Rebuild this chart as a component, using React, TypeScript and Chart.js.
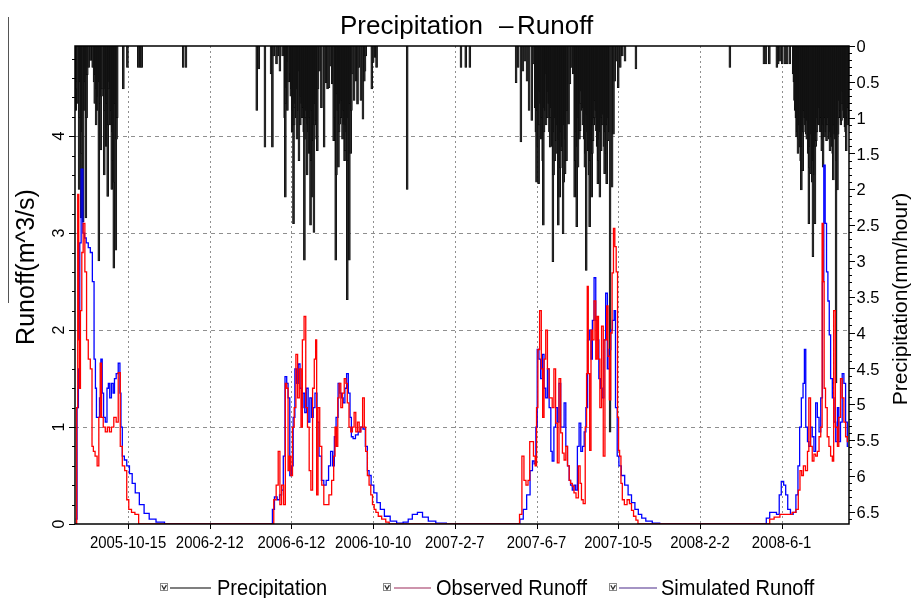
import React, { useEffect, useRef } from 'react';
import { Chart, registerables } from 'chart.js';
Chart.register(...registerables);

const W = 912;
const H = 598;
const FONT = '"Liberation Sans", Arial, Helvetica, sans-serif';

// x values are days counted from 2005-10-15
const xMin = -78;
const xMax = 1059;
const xTickDays = [0, 120, 240, 360, 480, 600, 720, 840, 960];
const xTickLabels = ['2005-10-15', '2006-2-12', '2006-6-12', '2006-10-10', '2007-2-7', '2007-6-7', '2007-10-5', '2008-2-2', '2008-6-1'];

const runoffMax = 4.93;
const runoffTicks = [0, 1, 2, 3, 4];
const runoffTickLabels = ['0', '1', '2', '3', '4'];

const precipMax = 6.67;
const precipTicks = [0, 0.5, 1, 1.5, 2, 2.5, 3, 3.5, 4, 4.5, 5, 5.5, 6, 6.5];
const precipTickLabels = ['0', '0.5', '1', '1.5', '2', '2.5', '3', '3.5', '4', '4.5', '5', '5.5', '6', '6.5'];

const chartTitle = ['Precipitation', '\u2013', 'Runoff'];
const runoffAxisTitle = 'Runoff(m^3/s)';
const precipAxisTitle = 'Precipitation(mm/hour)';
const legendLabels = ['Precipitation', 'Observed Runoff', 'Simulated Runoff'];

// [day, m^3/s]
const observedRunoff: [number, number][] = [
  [-77, 0], [-76, 0], [-75, 1.2], [-73, 3.4], [-72, 1.9], [-71, 1.4], [-69, 2.2], [-67, 2.8], [-65, 3.1], [-62, 2.6], [-60, 1.9], [-57, 1.7], [-54, 1.6], [-52, 0.8], [-50, 0.75], [-47, 0.7], [-44, 0.6], [-42, 1.1], [-40, 1.66], [-38, 1.1], [-35, 1.0], [-32, 0.95], [-29, 1.0], [-26, 0.95], [-23, 1.0], [-19, 1.1], [-16, 1.05], [-13, 1.56], [-10, 0.8], [-7, 0.6], [-3, 0.55], [-1, 0.25], [3, 0.15], [7, 0.12], [13, 0.1], [18, 0],
  [212, 0], [216, 0.25], [219, 0.4], [222, 0.75], [224, 0.2], [227, 0.4], [230, 0.2], [232, 1.45], [234, 1.4], [236, 0.55], [238, 0.7], [240, 0.5], [243, 1.0], [245, 1.2], [248, 1.75], [250, 1.3], [253, 1.6], [255, 1.0], [257, 1.9], [260, 2.14], [262, 1.2], [265, 1.0], [267, 0.55], [270, 0.35], [272, 1.4], [275, 1.7], [276, 1.9], [278, 0.3], [280, 1.2], [283, 0.8], [286, 0.4], [289, 0.2], [293, 0.2], [297, 0.3], [301, 0.45], [303, 0.7], [305, 1.0], [307, 0.8], [309, 1.3], [311, 1.45], [314, 1.2], [316, 1.35], [319, 1.5], [321, 1.45], [323, 1.25], [326, 1.0], [328, 0.95], [331, 1.0], [333, 1.15], [336, 0.95], [338, 1.05], [341, 0.95], [343, 1.0], [346, 1.3], [348, 1.0], [350, 0.75], [353, 0.5], [355, 0.4], [358, 0.3], [360, 0.2], [363, 0.15], [365, 0.12], [370, 0.08], [375, 0.05], [382, 0.02], [385, 0],
  [573, 0], [577, 0.1], [580, 0.7], [583, 0.45], [586, 0.4], [589, 0.45], [591, 0.85], [594, 0.85], [597, 0.7], [599, 0.6], [601, 1.2], [603, 1.8], [606, 2.2], [608, 1.6], [610, 1.1], [612, 1.7], [615, 2.0], [617, 1.6], [620, 1.3], [622, 1.3], [624, 1.2], [627, 1.6], [629, 1.04], [632, 0.63], [634, 1.5], [637, 0.94], [639, 0.73], [642, 0.66], [644, 0.8], [647, 0.6], [649, 0.45], [651, 0.42], [654, 0.39], [656, 0.32], [660, 0.27], [663, 0.6], [665, 0.42], [667, 0.25], [670, 0.21], [673, 1.0], [674, 1.55], [675, 2.45], [677, 1.55], [679, 0.76], [681, 2.0], [683, 1.9], [686, 2.3], [688, 1.7], [690, 2.14], [692, 1.7], [694, 1.2], [697, 2.04], [699, 0.7], [702, 1.9], [704, 2.25], [706, 1.73], [708, 1.28], [710, 1.97], [712, 2.59], [714, 3.05], [716, 2.86], [718, 2.6], [720, 1.1], [721, 0.76], [723, 0.7], [725, 0.42], [727, 0.25], [731, 0.2], [735, 0.25], [738, 0.21], [741, 0.14], [744, 0.08], [748, 0.04], [750, 0],
  [940, 0], [945, 0.05], [953, 0.07], [962, 0.1], [972, 0.1], [979, 0.12], [983, 0.15], [986, 0.35], [988, 0.55], [991, 0.5], [993, 0.6], [997, 0.55], [999, 0.75], [1001, 1.3], [1004, 0.8], [1006, 0.65], [1009, 0.72], [1011, 0.7], [1014, 0.75], [1016, 0.9], [1019, 1.0], [1020, 3.1], [1022, 2.5], [1023, 1.4], [1026, 1.2], [1028, 0.9], [1031, 0.8], [1033, 0.7], [1036, 0.65], [1037, 2.2], [1041, 1.0], [1043, 0.8], [1045, 1.1], [1048, 1.5], [1050, 1.3], [1053, 1.05], [1055, 0.9], [1058, 0.85],
];

const simulatedRunoff: [number, number][] = [
  [-77, 0.05], [-76, 0.05], [-74, 1.2], [-72, 1.6], [-70, 2.9], [-68, 3.66], [-65, 3.0], [-63, 2.95], [-60, 2.9], [-57, 2.85], [-54, 2.8], [-51, 2.5], [-49, 1.7], [-47, 1.4], [-46, 1.1], [-43, 1.1], [-41, 1.3], [-39, 1.7], [-37, 1.35], [-35, 1.1], [-32, 1.05], [-30, 1.4], [-28, 1.45], [-26, 1.3], [-23, 1.45], [-21, 1.35], [-19, 1.5], [-16, 1.55], [-13, 1.66], [-11, 1.35], [-10, 1.0], [-7, 0.7], [-4, 0.66], [0, 0.6], [4, 0.52], [8, 0.42], [13, 0.32], [20, 0.2], [27, 0.11], [35, 0.05], [47, 0.02], [60, 0],
  [211, 0], [213, 0.15], [217, 0.28], [221, 0.25], [224, 0.3], [227, 0.35], [229, 0.7], [232, 1.52], [234, 1.45], [236, 1.3], [239, 0.5], [241, 0.6], [244, 1.1], [246, 1.6], [249, 1.45], [251, 1.65], [254, 1.4], [256, 1.2], [258, 1.35], [261, 1.15], [263, 1.4], [266, 1.05], [268, 1.3], [271, 1.1], [273, 1.2], [276, 1.35], [279, 1.05], [282, 0.7], [286, 0.45], [289, 0.4], [293, 0.45], [296, 0.6], [299, 0.75], [302, 0.6], [304, 0.9], [307, 1.1], [310, 1.45], [312, 1.35], [315, 1.3], [317, 1.25], [320, 1.4], [322, 1.55], [325, 1.35], [327, 1.1], [329, 0.9], [332, 0.88], [336, 0.92], [340, 0.95], [343, 1.0], [347, 0.98], [350, 0.8], [353, 0.55], [355, 0.5], [359, 0.4], [363, 0.32], [368, 0.22], [373, 0.15], [380, 0.08], [390, 0.03], [399, 0.01], [409, 0.02], [414, 0.05], [421, 0.1], [429, 0.12], [436, 0.07], [446, 0.03], [458, 0.01], [477, 0],
  [573, 0], [578, 0.05], [583, 0.15], [588, 0.3], [593, 0.55], [595, 0.65], [598, 0.62], [600, 1.0], [602, 1.8], [605, 1.7], [607, 1.5], [610, 1.75], [612, 1.4], [615, 1.3], [617, 1.6], [620, 1.2], [622, 0.75], [624, 0.65], [627, 1.0], [629, 1.2], [632, 1.05], [634, 1.45], [637, 1.0], [639, 1.0], [642, 1.25], [644, 0.8], [647, 0.6], [649, 0.45], [651, 0.4], [654, 0.35], [656, 0.4], [659, 0.35], [661, 0.8], [664, 1.04], [666, 0.75], [669, 0.8], [671, 0.95], [674, 1.2], [676, 1.9], [679, 2.0], [681, 1.7], [683, 2.1], [686, 2.54], [688, 2.1], [690, 1.9], [693, 1.5], [695, 1.4], [698, 1.3], [700, 1.9], [703, 2.38], [705, 1.6], [708, 1.8], [710, 2.0], [713, 2.1], [715, 2.2], [717, 1.2], [720, 0.7], [722, 0.6], [727, 0.5], [732, 0.4], [737, 0.3], [742, 0.22], [747, 0.15], [752, 0.1], [757, 0.06], [764, 0.03], [776, 0.01], [786, 0],
  [935, 0], [940, 0.06], [945, 0.12], [950, 0.12], [955, 0.1], [958, 0.3], [961, 0.44], [965, 0.4], [967, 0.3], [971, 0.15], [975, 0.1], [979, 0.12], [983, 0.3], [985, 0.6], [988, 1.0], [990, 1.3], [993, 1.45], [994, 1.8], [997, 1.0], [999, 0.85], [1001, 0.8], [1004, 1.0], [1006, 0.9], [1009, 0.75], [1011, 1.25], [1014, 1.1], [1016, 0.95], [1019, 1.3], [1021, 2.5], [1023, 3.7], [1025, 3.1], [1027, 2.6], [1029, 2.3], [1031, 1.95], [1033, 1.5], [1036, 1.3], [1038, 1.05], [1041, 0.85], [1043, 1.2], [1045, 0.85], [1048, 1.05], [1050, 1.55], [1053, 1.45], [1055, 1.05], [1058, 0.8],
];

// [day, mm/hour]
const precipitation: [number, number][] = [
  [-77, 0.9], [-76, 0.6], [-75, 0.5], [-74, 0.8], [-72, 2.0], [-71, 1.0], [-70, 0.5], [-69, 2.4], [-68, 1.5], [-67, 1.2], [-66, 2.45], [-64, 0.9], [-63, 0.5], [-62, 2.4], [-61, 1.0], [-60, 0.4], [-58, 0.3], [-55, 0.2], [-52, 0.3], [-50, 0.5], [-49, 0.8], [-48, 0.4], [-47, 1.1], [-46, 0.6], [-45, 0.9], [-44, 0.7], [-43, 3.0], [-42, 0.5], [-41, 0.8], [-40, 1.45], [-39, 0.7], [-38, 0.6], [-35, 1.8], [-34, 0.9], [-33, 0.6], [-32, 1.4], [-31, 0.8], [-30, 2.1], [-29, 1.1], [-28, 0.6], [-27, 0.5], [-26, 1.1], [-25, 0.9], [-24, 2.0], [-23, 1.2], [-22, 1.6], [-21, 3.1], [-20, 1.9], [-19, 0.8], [-18, 2.85], [-17, 1.3], [-16, 1.0], [-7, 0.6], [-1, 0.3], [15, 0.3], [18, 0.3], [20, 0.3],
  [81, 0.3], [85, 0.3],
  [189, 0.9], [192, 0.32], [201, 1.41], [210, 0.39], [212, 1.41], [214, 0.14], [218, 0.25], [220, 0.14], [223, 0.35], [227, 0.14], [230, 1.0], [231, 2.11], [232, 0.8], [233, 0.58], [234, 0.9], [235, 0.21], [236, 0.5], [238, 0.39], [239, 0.7], [240, 0.6], [241, 1.2], [242, 0.9], [243, 2.48], [244, 1.1], [245, 0.86], [246, 0.8], [247, 1.0], [248, 1.3], [249, 0.6], [250, 0.9], [251, 1.6], [252, 0.35], [253, 1.1], [254, 0.7], [255, 0.8], [256, 1.0], [257, 0.86], [258, 1.2], [259, 2.99], [260, 1.3], [261, 1.0], [262, 0.9], [263, 1.8], [264, 1.09], [265, 1.2], [266, 1.5], [267, 1.0], [268, 2.5], [269, 1.6], [270, 0.9], [271, 2.11], [272, 1.32], [273, 2.6], [274, 1.1], [275, 0.8], [276, 1.04], [277, 1.3], [278, 1.46], [279, 0.6], [281, 0.35], [284, 0.86], [288, 1.41], [291, 0.51], [293, 0.6], [295, 0.58], [298, 0.28], [300, 0.53], [302, 1.32], [304, 1.0], [305, 2.99], [306, 1.8], [307, 0.67], [308, 0.9], [309, 1.69], [310, 1.2], [311, 1.09], [312, 0.8], [313, 1.0], [314, 0.76], [315, 1.3], [316, 1.09], [317, 0.9], [318, 1.6], [319, 1.46], [320, 1.1], [321, 1.2], [322, 3.54], [323, 1.6], [324, 1.0], [325, 2.99], [326, 0.8], [327, 1.5], [328, 0.9], [330, 0.39], [332, 0.76], [335, 0.49], [337, 0.81], [339, 0.3], [342, 0.76], [345, 1.02], [347, 0.49], [348, 0.35], [349, 0.14], [358, 0.6], [360, 0.23], [363, 0.16], [365, 0.3], [410, 2.0],
  [489, 0.3], [496, 0.3], [502, 0.3],
  [570, 0.51], [573, 0.3], [577, 1.34], [580, 0.35], [583, 0.21], [586, 0.49], [589, 0.9], [593, 1.04], [595, 0.25], [598, 0.86], [599, 1.2], [600, 1.9], [601, 0.9], [602, 1.4], [603, 1.92], [604, 1.1], [605, 0.63], [606, 0.8], [607, 1.3], [608, 1.0], [609, 1.6], [610, 2.5], [611, 1.2], [612, 0.86], [613, 0.9], [614, 1.1], [615, 0.39], [616, 1.0], [617, 0.63], [618, 0.8], [619, 1.2], [620, 1.41], [621, 1.0], [622, 0.86], [623, 1.4], [624, 3.01], [625, 1.8], [626, 1.2], [627, 1.6], [628, 1.0], [629, 1.32], [630, 1.5], [631, 1.1], [632, 2.5], [633, 1.3], [634, 2.11], [635, 1.7], [636, 1.2], [637, 1.46], [638, 1.4], [639, 2.62], [640, 1.9], [641, 1.1], [642, 1.78], [643, 1.3], [644, 1.6], [645, 0.9], [647, 1.09], [649, 0.53], [651, 0.3], [654, 0.39], [656, 2.11], [657, 1.6], [658, 1.2], [659, 2.52], [660, 1.4], [661, 1.69], [662, 1.0], [663, 1.3], [664, 1.18], [665, 0.8], [666, 0.63], [667, 0.9], [668, 1.1], [669, 0.86], [670, 1.3], [671, 1.69], [672, 1.5], [673, 3.13], [674, 0.95], [675, 1.2], [676, 1.46], [677, 1.8], [678, 2.52], [679, 1.6], [680, 1.3], [681, 2.11], [682, 1.5], [683, 1.32], [684, 1.1], [685, 1.0], [686, 0.76], [687, 0.9], [688, 1.18], [689, 1.4], [690, 1.92], [691, 1.6], [692, 1.3], [693, 2.11], [694, 1.2], [695, 1.46], [696, 1.0], [697, 1.1], [698, 0.95], [699, 1.4], [700, 1.78], [701, 1.2], [702, 1.5], [703, 1.92], [704, 1.1], [705, 1.32], [706, 1.0], [707, 1.2], [708, 5.39], [711, 1.97], [713, 1.23], [715, 0.49], [718, 0.21], [720, 0.58], [723, 0.3], [726, 0.14], [730, 0.21], [746, 0.32],
  [884, 0.3],
  [934, 0.25], [937, 0.25], [942, 0.25], [953, 0.3], [955, 0.25], [957, 0.21], [961, 0.25], [965, 0.25], [968, 0.25], [972, 0.25], [977, 0.39], [978, 0.5], [979, 0.76], [980, 0.9], [981, 1.0], [982, 1.27], [983, 1.2], [984, 1.5], [985, 1.3], [986, 1.1], [987, 1.41], [988, 1.6], [989, 2.01], [990, 1.4], [991, 1.74], [992, 1.2], [993, 0.9], [994, 1.0], [995, 1.1], [996, 1.23], [997, 1.3], [998, 1.04], [999, 1.5], [1000, 2.48], [1001, 1.7], [1002, 1.4], [1003, 1.78], [1004, 1.23], [1005, 1.9], [1006, 2.94], [1007, 1.6], [1008, 1.8], [1009, 2.48], [1010, 1.4], [1011, 1.32], [1012, 1.2], [1013, 1.0], [1014, 1.09], [1015, 1.1], [1016, 0.86], [1017, 1.2], [1018, 1.0], [1019, 1.46], [1020, 1.3], [1021, 1.69], [1022, 1.1], [1023, 1.27], [1024, 1.0], [1025, 1.2], [1026, 1.32], [1027, 1.1], [1028, 1.09], [1029, 1.0], [1030, 1.3], [1031, 1.46], [1032, 1.2], [1033, 1.27], [1034, 1.4], [1035, 1.5], [1036, 1.87], [1037, 1.1], [1038, 1.23], [1039, 1.3], [1040, 4.7], [1041, 1.6], [1042, 2.01], [1043, 1.23], [1044, 1.0], [1045, 0.76], [1046, 0.9], [1047, 1.1], [1048, 1.04], [1049, 0.8], [1050, 0.63], [1051, 0.9], [1052, 1.0], [1053, 1.13], [1054, 1.2], [1055, 1.46], [1056, 1.0], [1057, 1.1], [1058, 0.86],
];

function hline(ctx: CanvasRenderingContext2D, x1: number, x2: number, y: number) {
  ctx.beginPath(); ctx.moveTo(x1, y); ctx.lineTo(x2, y); ctx.stroke();
}
function vline(ctx: CanvasRenderingContext2D, x: number, y1: number, y2: number) {
  ctx.beginPath(); ctx.moveTo(x, y1); ctx.lineTo(x, y2); ctx.stroke();
}
function rotText(ctx: CanvasRenderingContext2D, text: string, x: number, y: number, font: string) {
  ctx.save();
  ctx.translate(x, y);
  ctx.rotate(-Math.PI / 2);
  ctx.font = font;
  ctx.textAlign = 'center';
  ctx.textBaseline = 'alphabetic';
  ctx.fillText(text, 0, 0);
  ctx.restore();
}
function squeezedText(ctx: CanvasRenderingContext2D, text: string, x: number, y: number, font: string, sx: number, align: CanvasTextAlign) {
  ctx.save();
  ctx.translate(x, y);
  ctx.scale(sx, 1);
  ctx.font = font;
  ctx.textAlign = align;
  ctx.textBaseline = 'alphabetic';
  ctx.fillText(text, 0, 0);
  ctx.restore();
}
function checkBox(ctx: CanvasRenderingContext2D, x: number, y: number) {
  ctx.save();
  ctx.fillStyle = '#ffffff';
  ctx.strokeStyle = '#8a8a8a';
  ctx.lineWidth = 1;
  ctx.fillRect(x, y, 8, 8);
  ctx.strokeRect(x + 0.5, y + 0.5, 7, 7);
  ctx.strokeStyle = '#303030';
  ctx.lineWidth = 1.3;
  ctx.beginPath();
  ctx.moveTo(x + 1.8, y + 2.2);
  ctx.lineTo(x + 4, y + 6.2);
  ctx.lineTo(x + 6.4, y + 2.2);
  ctx.stroke();
  ctx.restore();
}

const decor = {
  id: 'decor',
  beforeDatasetsDraw(chart: any) {
    const { ctx, chartArea: a, scales } = chart;
    const sx = scales.x;
    const sy = scales.y;
    ctx.save();
    ctx.lineWidth = 1;
    ctx.strokeStyle = '#8f8f8f';
    ctx.setLineDash([4, 4]);
    runoffTicks.forEach((v) => {
      if (v === 0) return;
      const py = Math.round(sy.getPixelForValue(v)) + 0.5;
      hline(ctx, a.left, a.right, py);
    });
    ctx.setLineDash([2, 3]);
    xTickDays.forEach((d) => {
      const px = Math.round(sx.getPixelForValue(d)) + 0.5;
      vline(ctx, px, a.top, a.bottom);
    });
    ctx.restore();
  },
  afterDatasetsDraw(chart: any) {
    const { ctx, chartArea: a, scales } = chart;
    const sx = scales.x;
    const sy = scales.y;
    const sy2 = scales.y2;
    ctx.save();
    // frame
    ctx.strokeStyle = '#000';
    ctx.lineWidth = 1.5;
    ctx.strokeRect(a.left, a.top, a.right - a.left, a.bottom - a.top);

    ctx.lineWidth = 1;
    // left ticks
    for (let v = 0; v <= runoffMax + 1e-9; v += 0.2) {
      const py = Math.round(sy.getPixelForValue(v)) + 0.5;
      const major = Math.abs(v - Math.round(v)) < 1e-6;
      hline(ctx, a.left - (major ? 6 : 3), a.left, py);
    }
    // right ticks
    for (let v = 0; v <= precipMax + 1e-9; v += 0.1) {
      const py = Math.round(sy2.getPixelForValue(v)) + 0.5;
      const major = Math.abs(v * 2 - Math.round(v * 2)) < 1e-6;
      hline(ctx, a.right, a.right + (major ? 6 : 3), py);
    }
    // bottom ticks
    xTickDays.forEach((d) => {
      const px = Math.round(sx.getPixelForValue(d)) + 0.5;
      vline(ctx, px, a.bottom, a.bottom + 5);
    });

    ctx.fillStyle = '#000';
    // left tick labels (rotated)
    runoffTicks.forEach((v, i) => {
      rotText(ctx, runoffTickLabels[i], 64, sy.getPixelForValue(v), `16px ${FONT}`);
    });
    // right tick labels
    ctx.font = `16.5px ${FONT}`;
    ctx.textAlign = 'left';
    ctx.textBaseline = 'middle';
    precipTicks.forEach((v, i) => {
      ctx.fillText(precipTickLabels[i], a.right + 7.5, sy2.getPixelForValue(v) + 1.5);
    });
    // bottom tick labels
    xTickDays.forEach((d, i) => {
      squeezedText(ctx, xTickLabels[i], sx.getPixelForValue(d), 548, `16px ${FONT}`, 0.93, 'center');
    });

    // axis titles
    rotText(ctx, runoffAxisTitle, 34, 267, `25px ${FONT}`);
    rotText(ctx, precipAxisTitle, 907, 299, `21px ${FONT}`);

    // chart title
    ctx.font = `26px ${FONT}`;
    ctx.textAlign = 'left';
    ctx.textBaseline = 'alphabetic';
    ctx.fillText(chartTitle[0], 340, 34);
    ctx.fillText(chartTitle[1], 499, 34);
    ctx.fillText(chartTitle[2], 517, 34);

    // stray line at left
    ctx.strokeStyle = '#555';
    ctx.lineWidth = 1;
    vline(ctx, 8.5, 17, 303);

    // legend
    const lx = [160, 383, 609];
    const lineX = [[170, 211], [394, 431], [619, 657]];
    const lineCol = ['#000000', '#9b2a5a', '#4b2a8a'];
    const textX = [217, 436, 661];
    legendLabels.forEach((t, i) => {
      checkBox(ctx, lx[i], 583);
      ctx.strokeStyle = lineCol[i];
      ctx.lineWidth = 1.2;
      hline(ctx, lineX[i][0], lineX[i][1], 588);
      squeezedText(ctx, t, textX[i], 595, `22px ${FONT}`, 0.91, 'left');
    });
    ctx.restore();
  },
};

export default function App() {
  const ref = useRef<HTMLCanvasElement>(null);
  useEffect(() => {
    const canvas = ref.current;
    if (!canvas) return;
    const chart = new Chart(canvas, {
      type: 'bar',
      data: {
        datasets: [
          {
            type: 'line',
            label: legendLabels[1],
            data: observedRunoff.map(([d, v]) => ({ x: d, y: v })),
            yAxisID: 'y',
            borderColor: '#ff0000',
            borderWidth: 1.3,
            pointRadius: 0,
            stepped: 'middle',
            fill: false,
          } as any,
          {
            type: 'line',
            label: legendLabels[2],
            data: simulatedRunoff.map(([d, v]) => ({ x: d, y: v })),
            yAxisID: 'y',
            borderColor: '#0000ff',
            borderWidth: 1.3,
            pointRadius: 0,
            stepped: 'middle',
            fill: false,
          } as any,
          {
            type: 'bar',
            label: legendLabels[0],
            data: precipitation.map(([d, v]) => ({ x: d, y: v })),
            yAxisID: 'y2',
            backgroundColor: '#262626',
            borderColor: '#000000',
            borderWidth: 0.5,
            borderSkipped: 'start',
            barThickness: 2.0,
            grouped: false,
          } as any,
        ],
      },
      options: {
        animation: false,
        responsive: false,
        devicePixelRatio: 1,
        events: [],
        layout: { padding: { top: 46, left: 0, right: 0, bottom: 0 } },
        plugins: { legend: { display: false }, title: { display: false }, tooltip: { enabled: false } },
        scales: {
          x: {
            type: 'linear',
            min: xMin,
            max: xMax,
            offset: false,
            grid: { display: false },
            border: { display: false },
            ticks: { display: false },
            afterBuildTicks: (s: any) => { s.ticks = xTickDays.map((v) => ({ value: v })); },
            afterFit: (s: any) => { s.height = 74; },
          },
          y: {
            type: 'linear',
            position: 'left',
            min: 0,
            max: runoffMax,
            grid: { display: false },
            border: { display: false },
            ticks: { display: false },
            afterBuildTicks: (s: any) => { s.ticks = runoffTicks.map((v) => ({ value: v })); },
            afterFit: (s: any) => { s.width = 75; },
          },
          y2: {
            type: 'linear',
            position: 'right',
            min: 0,
            max: precipMax,
            reverse: true,
            grid: { display: false },
            border: { display: false },
            ticks: { display: false },
            afterBuildTicks: (s: any) => { s.ticks = precipTicks.map((v) => ({ value: v })); },
            afterFit: (s: any) => { s.width = 63; },
          },
        },
      } as any,
      plugins: [decor],
    });
    return () => chart.destroy();
  }, []);
  return (
    <div style={{ position: 'fixed', left: 0, top: 0, width: W, height: H, background: '#ffffff' }}>
      <canvas ref={ref} width={W} height={H} style={{ display: 'block', width: W, height: H }} />
    </div>
  );
}
